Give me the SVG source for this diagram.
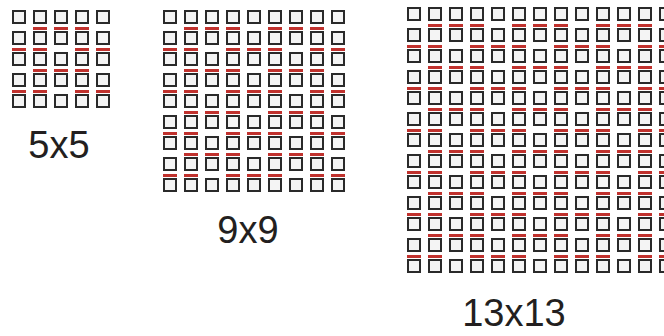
<svg xmlns="http://www.w3.org/2000/svg" xmlns:xlink="http://www.w3.org/1999/xlink" width="664" height="336" viewBox="0 0 664 336">
<style>
.sq{fill:#f4f4f4;stroke:#2a2a2a;stroke-width:2}
.bar{fill:#c0312d}
.lbl{font-family:"Liberation Sans",Arial,sans-serif;font-size:38px;fill:#231f20;text-anchor:middle}
</style>
<defs>
<rect id="s" x="1" y="1" width="12" height="12" class="sq"/>
<rect id="b" x="0" y="17" width="14" height="3" class="bar"/>
<g id="r5"><use href="#s" x="0"/><use href="#s" x="21"/><use href="#s" x="42"/><use href="#s" x="63"/><use href="#s" x="84"/></g>
<g id="r9"><use href="#r5"/><use href="#s" x="105"/><use href="#s" x="126"/><use href="#s" x="147"/><use href="#s" x="168"/></g>
<g id="r13"><use href="#r9"/><use href="#s" x="189"/><use href="#s" x="210"/><use href="#s" x="231"/><use href="#s" x="252"/></g>
<g id="a5"><use href="#b" x="21"/><use href="#b" x="42"/><use href="#b" x="63"/></g>
<g id="b5"><use href="#b" x="0"/><use href="#b" x="21"/><use href="#b" x="63"/><use href="#b" x="84"/></g>
<g id="a9"><use href="#a5"/><use href="#b" x="105"/><use href="#b" x="126"/><use href="#b" x="147"/></g>
<g id="b9"><use href="#b5"/><use href="#b" x="105"/><use href="#b" x="147"/><use href="#b" x="168"/></g>
<g id="a13"><use href="#a9"/><use href="#b" x="189"/><use href="#b" x="210"/><use href="#b" x="231"/></g>
<g id="b13"><use href="#b9"/><use href="#b" x="189"/><use href="#b" x="231"/><use href="#b" x="252"/></g>
</defs>
<rect width="664" height="336" fill="#ffffff"/>
<g id="grid5x5" transform="translate(12,10)">
<use href="#r5" y="0"/><use href="#r5" y="21"/><use href="#r5" y="42"/><use href="#r5" y="63"/><use href="#r5" y="84"/>
<use href="#a5" y="0"/><use href="#b5" y="21"/><use href="#a5" y="42"/><use href="#b5" y="63"/>
</g>
<g id="grid9x9" transform="translate(163,10)">
<use href="#r9" y="0"/><use href="#r9" y="21"/><use href="#r9" y="42"/><use href="#r9" y="63"/><use href="#r9" y="84"/><use href="#r9" y="105"/><use href="#r9" y="126"/><use href="#r9" y="147"/><use href="#r9" y="168"/>
<use href="#a9" y="0"/><use href="#b9" y="21"/><use href="#a9" y="42"/><use href="#b9" y="63"/><use href="#a9" y="84"/><use href="#b9" y="105"/><use href="#a9" y="126"/><use href="#b9" y="147"/>
</g>
<g id="grid13x13" transform="translate(407,7)">
<use href="#r13" y="0"/><use href="#r13" y="21"/><use href="#r13" y="42"/><use href="#r13" y="63"/><use href="#r13" y="84"/><use href="#r13" y="105"/><use href="#r13" y="126"/><use href="#r13" y="147"/><use href="#r13" y="168"/><use href="#r13" y="189"/><use href="#r13" y="210"/><use href="#r13" y="231"/><use href="#r13" y="252"/>
<use href="#a13" y="0"/><use href="#b13" y="21"/><use href="#a13" y="42"/><use href="#b13" y="63"/><use href="#a13" y="84"/><use href="#b13" y="105"/><use href="#a13" y="126"/><use href="#b13" y="147"/><use href="#a13" y="168"/><use href="#b13" y="189"/><use href="#a13" y="210"/><use href="#b13" y="231"/>
</g>
<g id="labels">
<text class="lbl" x="59" y="158">5x5</text>
<text class="lbl" x="248" y="243">9x9</text>
<text class="lbl" x="514" y="326">13x13</text>
</g>
</svg>
